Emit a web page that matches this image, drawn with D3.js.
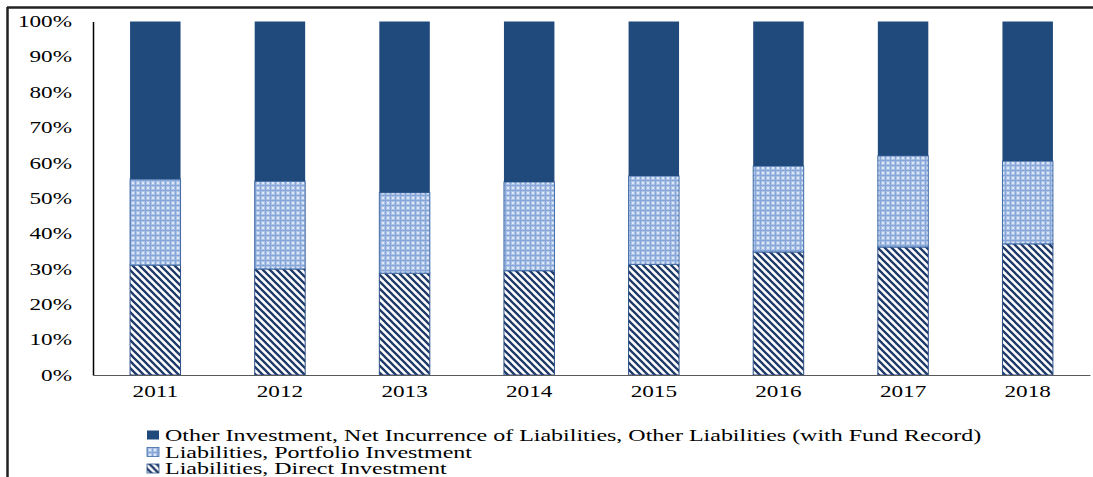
<!DOCTYPE html>
<html>
<head>
<meta charset="utf-8">
<script src="https://cdn.jsdelivr.net/npm/d3@7"></script>
<style>
  html, body { margin: 0; padding: 0; background: #fff; }
  svg { display: block; }
  text { font-family: "Liberation Serif", "Times New Roman", serif; fill: #000; }
</style>
</head>
<body>
<svg id="chart" width="1093" height="477"></svg>
<script>
// Years on the category axis
const years = ["2011", "2012", "2013", "2014", "2015", "2016", "2017", "2018"];

// Shares of total liabilities, percent
const directInvestment    = [31.1, 30.0, 28.8, 29.5, 31.3, 34.8, 36.2, 37.1];
const portfolioInvestment = [24.3, 24.8, 22.8, 25.1, 25.0, 24.3, 25.8, 23.4];
const otherInvestment     = [44.6, 45.2, 48.4, 45.4, 43.7, 40.9, 38.0, 39.5];

// Y axis tick values
const yTicks = [0, 10, 20, 30, 40, 50, 60, 70, 80, 90, 100];

// Series in stacking order (bottom to top) and legend order (top to bottom)
const seriesKeys = ["direct", "portfolio", "other"];
const seriesNames = {
  other: "Other Investment, Net Incurrence of Liabilities, Other Liabilities (with Fund Record)",
  portfolio: "Liabilities, Portfolio Investment",
  direct: "Liabilities, Direct Investment"
};
const legendOrder = ["other", "portfolio", "direct"];

const rows = years.map((y, i) => ({
  year: y,
  direct: directInvestment[i],
  portfolio: portfolioInvestment[i],
  other: otherInvestment[i]
}));

const SX = 1.45;       // horizontal stretch applied to axis label glyphs
const SX_LEGEND = 1.5; // horizontal stretch applied to legend glyphs
const svg = d3.select("#chart");

// Patterns
const defs = svg.append("defs");
const stripes = defs.append("pattern")
  .attr("id", "pat-direct")
  .attr("patternUnits", "userSpaceOnUse")
  .attr("width", 7).attr("height", 7);
stripes.append("rect").attr("width", 7).attr("height", 7).attr("fill", "#fff");
stripes.append("path")
  .attr("d", "M-2,-2 L9,9 M-9,-2 L2,9 M5,-2 L16,9")
  .attr("stroke", "#1f3a68").attr("stroke-width", 2.3);

const grid = defs.append("pattern")
  .attr("id", "pat-portfolio")
  .attr("patternUnits", "userSpaceOnUse")
  .attr("width", 5).attr("height", 5);
grid.append("rect").attr("width", 5).attr("height", 5).attr("fill", "#aec4e7");
grid.append("rect").attr("x", 0).attr("y", 0).attr("width", 5).attr("height", 1).attr("fill", "#86a5d8");
grid.append("rect").attr("x", 0).attr("y", 0).attr("width", 1).attr("height", 5).attr("fill", "#86a5d8");
grid.append("rect").attr("x", 2).attr("y", 2).attr("width", 2).attr("height", 2).attr("fill", "#dfe8f6");

const fills = {
  other: "#204a7c",
  portfolio: "url(#pat-portfolio)",
  direct: "url(#pat-direct)"
};
const strokes = { other: "none", portfolio: "#3e6aa5", direct: "#2b4f86" };

// Frame lines
svg.append("line").attr("x1", 7).attr("x2", 1093).attr("y1", 7.5).attr("y2", 7.5)
  .attr("stroke", "#222").attr("stroke-width", 2.5);
svg.append("line").attr("x1", 7.5).attr("x2", 7.5).attr("y1", 7).attr("y2", 477)
  .attr("stroke", "#222").attr("stroke-width", 2.5);

// Scales
const x = d3.scaleBand().domain(years).range([93, 1090])
  .paddingInner(0.595).paddingOuter(0.2975);
const y = d3.scaleLinear().domain([0, 100]).range([375, 21.5]);

const stacked = d3.stack().keys(seriesKeys)(rows);

// Bars
svg.append("g").selectAll("g")
  .data(stacked)
  .join("g")
  .attr("fill", d => fills[d.key])
  .attr("stroke", d => strokes[d.key])
  .attr("stroke-width", 1)
  .selectAll("rect")
  .data(d => d)
  .join("rect")
  .attr("x", d => x(d.data.year))
  .attr("width", x.bandwidth())
  .attr("y", d => y(d[1]))
  .attr("height", d => y(d[0]) - y(d[1]));

// Y axis
const yAxis = svg.append("g")
  .attr("transform", "translate(93,0)")
  .call(d3.axisLeft(y).tickValues(yTicks).tickFormat(d => d + "%").tickSize(0).tickPadding(21));
yAxis.select(".domain").attr("stroke", "#000").attr("stroke-width", 1.5);
yAxis.selectAll("text")
  .attr("font-size", 16)
  .attr("font-family", "Liberation Serif, Times New Roman, serif")
  .attr("x", -21 / SX)
  .attr("transform", `scale(${SX},1)`);

// X axis
const xAxis = svg.append("g")
  .attr("transform", "translate(0,375)")
  .call(d3.axisBottom(x).tickSize(0).tickPadding(11));
xAxis.select(".domain").attr("stroke", "#595959").attr("stroke-width", 1.2);
xAxis.selectAll(".tick").each(function () {
  const t = d3.select(this);
  const tr = t.attr("transform");
  const cx = +/translate\(([-\d.]+)/.exec(tr)[1];
  t.attr("transform", `translate(${cx},0)`);
  t.select("text")
    .attr("font-size", 16)
    .attr("font-family", "Liberation Serif, Times New Roman, serif")
    .attr("transform", `scale(${SX},1)`);
});

// Legend
const legend = svg.append("g").attr("transform", "translate(147,0)");
const legendY = [435, 452, 468.5];
legendOrder.forEach((key, i) => {
  const g = legend.append("g").attr("transform", `translate(0,${legendY[i]})`);
  g.append("rect")
    .attr("x", 0).attr("y", -4.5)
    .attr("width", 12).attr("height", 9)
    .attr("fill", fills[key])
    .attr("stroke", strokes[key] === "none" ? "none" : strokes[key])
    .attr("stroke-width", 0.8);
  g.append("text")
    .attr("transform", `translate(18,0) scale(${SX_LEGEND},1)`)
    .attr("dy", "0.35em")
    .attr("font-size", 16)
    .text(seriesNames[key]);
});
</script>
</body>
</html>
